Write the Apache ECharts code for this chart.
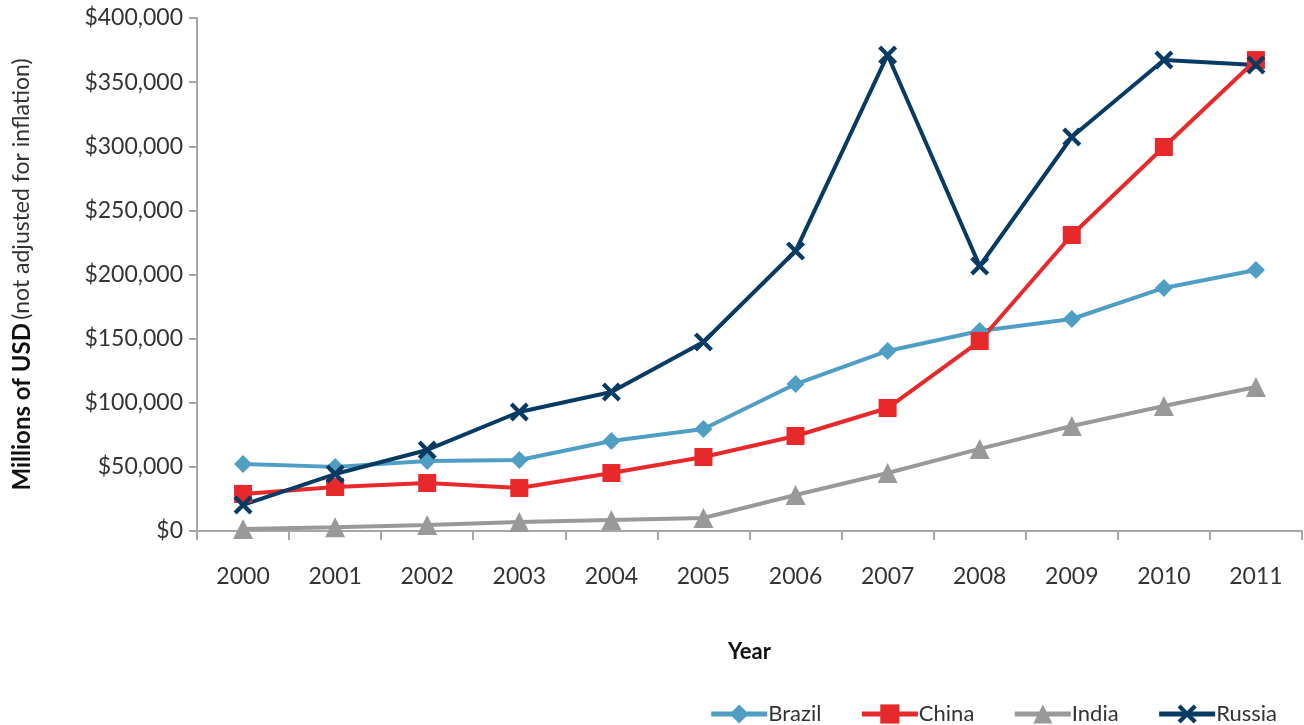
<!DOCTYPE html>
<html>
<head>
<meta charset="utf-8">
<script src="https://cdn.jsdelivr.net/npm/echarts@6/dist/echarts.min.js"></script>
<style>
  html, body { margin: 0; padding: 0; background: #fff; }
  #main { width: 1304px; height: 725px; }
</style>
</head>
<body>
<div id="main"></div>
<script>
var years = ['2000', '2001', '2002', '2003', '2004', '2005', '2006', '2007', '2008', '2009', '2010', '2011'];
var brazil = [52200, 50000, 54600, 55400, 70200, 79500, 114600, 140400, 156000, 165300, 189500, 203500];
var china = [28900, 34300, 37400, 33500, 45200, 57700, 74100, 95900, 148100, 230800, 299400, 367200];
var india = [1500, 3000, 4700, 7000, 8600, 10100, 28100, 45200, 64000, 81900, 97500, 112300];
var russia = [20300, 44400, 63200, 92800, 108400, 147400, 218300, 371200, 206600, 307200, 367200, 363400];

var FONT = 'Lato';
var crossPath = 'path://M0,1.6 L1.6,0 L5,3.4 L8.4,0 L10,1.6 L6.6,5 L10,8.4 L8.4,10 L5,6.6 L1.6,10 L0,8.4 L3.4,5 Z';

var chart = echarts.init(document.getElementById('main'));

function makeSeries(name, data, color, symbol, size) {
    return {
        name: name,
        type: 'line',
        data: data,
        symbol: symbol,
        symbolSize: size,
        showAllSymbol: true,
        lineStyle: { color: color, width: 4 },
        itemStyle: { color: color },
        emphasis: { disabled: true }
    };
}

var option = {
    animation: false,
    grid: {
        left: 197,
        right: 2,
        top: 18,
        bottom: 194,
        outerBoundsMode: 'none'
    },
    legend: {
        right: 22,
        top: 698,
        itemWidth: 56,
        itemHeight: 24,
        itemGap: 38,
        lineStyle: { width: 5 },
        textStyle: { fontFamily: FONT, fontSize: 22, color: '#333', padding: [0, 0, 0, -4] },
        data: ['Brazil', 'China', 'India', 'Russia']
    },
    xAxis: {
        type: 'category',
        data: years,
        name: 'Year',
        nameLocation: 'middle',
        nameGap: 110,
        nameTextStyle: { fontFamily: FONT, fontSize: 22, fontWeight: 'bold', color: '#111' },
        axisLine: { lineStyle: { color: '#a6a6a6', width: 2 } },
        axisTick: { show: true, interval: 0, length: 9, lineStyle: { color: '#a6a6a6', width: 2 } },
        axisLabel: { fontFamily: FONT, fontSize: 23, color: '#333', margin: 34, interval: 0 }
    },
    yAxis: {
        type: 'value',
        min: 0,
        max: 400000,
        interval: 50000,
        name: '{b|Millions of USD} {n|(not adjusted for inflation)}',
        nameLocation: 'middle',
        nameRotate: 90,
        nameGap: 163,
        nameTextStyle: {
            rich: {
                b: { fontFamily: FONT, fontSize: 24, fontWeight: 'bold', color: '#111' },
                n: { fontFamily: FONT, fontSize: 23, color: '#333' }
            }
        },
        axisLine: { show: true, lineStyle: { color: '#a6a6a6', width: 2 } },
        axisTick: { show: true, length: 8, lineStyle: { color: '#a6a6a6', width: 2 } },
        splitLine: { show: false },
        axisLabel: {
            fontFamily: FONT,
            fontSize: 23,
            color: '#333',
            margin: 14,
            formatter: function (v) {
                return '$' + v.toLocaleString('en-US');
            }
        }
    },
    series: [
        makeSeries('Brazil', brazil, '#4f9ec4', 'diamond', 18),
        makeSeries('China', china, '#e8292b', 'rect', 18),
        makeSeries('India', india, '#999999', 'triangle', 20),
        makeSeries('Russia', russia, '#073b63', crossPath, 19)
    ]
};

chart.setOption(option);
</script>
</body>
</html>
